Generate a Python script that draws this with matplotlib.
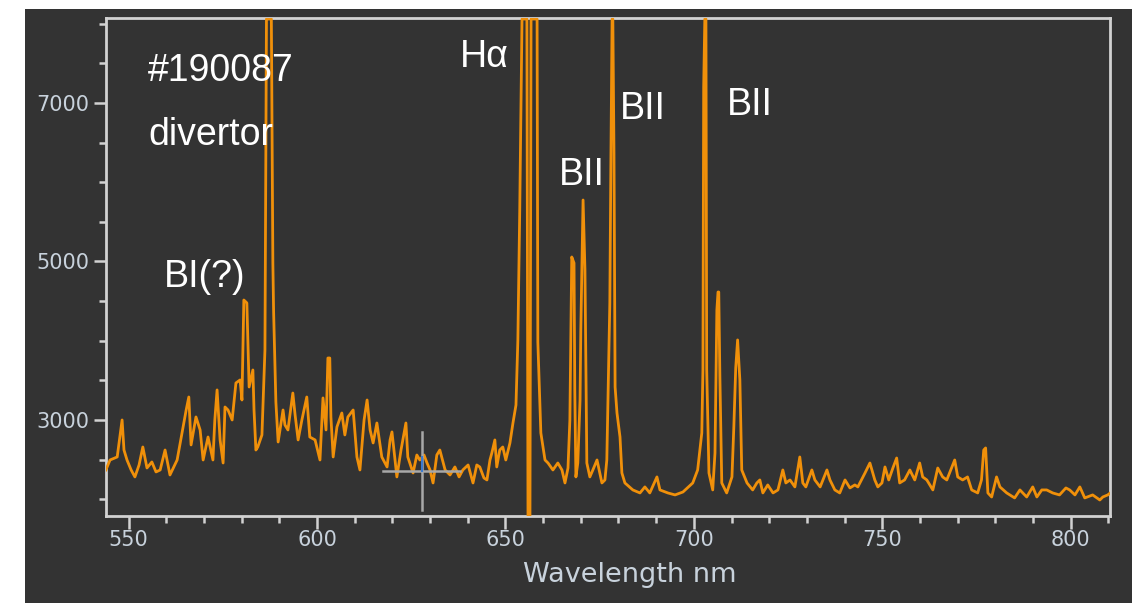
import matplotlib
matplotlib.use('Agg')
import matplotlib.pyplot as plt
from matplotlib.patches import Rectangle
from matplotlib.ticker import FixedLocator, MultipleLocator

# spectrum (wavelength nm, counts); 8060 = saturated, 1500 = overflow dip
wavelength = [
    544.0, 545.1, 547.0, 548.3, 548.8, 549.6, 550.7, 551.7, 552.8, 553.8, 554.9, 556.2, 557.3,
    558.4, 559.7, 561.0, 562.9, 564.5, 565.3, 566.0, 566.6, 567.9, 569.0, 569.8, 571.1, 572.4,
    572.9, 573.5, 574.3, 575.1, 575.6, 576.4, 577.5, 578.5, 579.6, 580.1, 580.6, 581.4, 582.0,
    583.0, 583.3, 583.8, 584.3, 585.4, 586.2, 586.6, 587.9, 588.3, 588.5, 589.1, 589.7, 591.0,
    591.5, 592.3, 593.6, 594.2, 595.0, 596.0, 597.3, 598.1, 599.5, 600.8, 601.6, 602.4, 602.9,
    603.4, 603.7, 604.3, 605.3, 606.6, 607.4, 608.2, 609.6, 610.6, 611.4, 612.5, 613.3, 614.1,
    614.9, 615.9, 617.2, 618.6, 619.4, 619.9, 620.7, 621.2, 622.3, 623.6, 624.1, 625.5, 626.5,
    627.3, 628.4, 629.2, 630.0, 630.8, 631.8, 632.6, 634.0, 635.3, 636.6, 637.7, 638.7, 640.1,
    641.4, 642.4, 643.2, 644.3, 645.1, 645.9, 646.4, 647.2, 647.7, 648.5, 649.3, 650.1, 651.2,
    652.0, 652.8, 653.3, 653.8, 654.4, 655.7, 656.0, 656.5, 656.8, 658.4, 658.6, 659.4, 660.5,
    661.3, 662.6, 663.9, 665.0, 665.8, 666.6, 667.1, 667.6, 668.2, 668.4, 668.7, 669.2, 669.8,
    670.0, 670.6, 671.1, 671.4, 671.6, 672.4, 673.2, 674.3, 675.6, 676.4, 676.9, 677.7, 678.0,
    678.3, 678.5, 678.8, 679.1, 679.6, 680.4, 680.9, 681.7, 683.8, 685.7, 687.0, 688.3, 690.2,
    691.0, 693.1, 695.0, 697.1, 699.7, 701.0, 702.1, 702.4, 702.6, 702.9, 703.2, 703.4, 704.0,
    705.0, 705.6, 706.1, 706.4, 706.6, 706.9, 707.4, 708.7, 710.1, 710.6, 711.1, 711.6, 712.2,
    712.7, 714.1, 715.6, 716.7, 717.5, 718.3, 719.6, 721.0, 722.3, 723.6, 724.4, 725.5, 726.8,
    728.1, 728.9, 729.7, 731.3, 732.1, 733.5, 735.3, 736.1, 737.4, 738.7, 740.1, 741.4, 742.7,
    743.5, 745.4, 746.7, 748.0, 748.8, 749.9, 750.7, 751.7, 752.8, 753.8, 754.6, 755.9, 757.3,
    758.6, 759.9, 760.7, 761.8, 763.4, 764.7, 766.0, 767.1, 769.2, 770.0, 771.3, 772.6, 773.7,
    775.3, 776.3, 776.9, 777.4, 778.0, 779.0, 780.3, 781.2, 783.0, 785.1, 786.5, 788.3, 789.9,
    791.0, 792.3, 793.6, 795.2, 797.0, 798.7, 799.7, 801.1, 802.4, 803.7, 805.8, 807.7, 808.5,
    809.8, 810.5,
]
counts = [
    2369, 2495, 2533, 3000, 2621, 2495, 2369, 2281, 2432, 2659, 2394, 2470, 2344,
    2369, 2621, 2306, 2495, 2912, 3126, 3290, 2685, 3038, 2874, 2495, 2785, 2495,
    3000, 3379, 2748, 2457, 3164, 3126, 3000, 3467, 3505, 3252, 4514, 4477, 3416,
    3631, 3126, 2621, 2659, 2811, 3883, 8060, 8060, 4981, 4363, 3227, 2722, 3126,
    2937, 2874, 3340, 3063, 2748, 3000, 3290, 2785, 2748, 2495, 3278, 2874, 3782,
    3782, 3038, 2533, 2912, 3088, 2811, 3038, 3126, 2533, 2369, 3000, 3252, 2874,
    2710, 2962, 2533, 2407, 2748, 2849, 2495, 2281, 2621, 2962, 2533, 2331, 2558,
    2495, 2558, 2457, 2369, 2205, 2558, 2621, 2369, 2306, 2407, 2281, 2369, 2432,
    2205, 2432, 2407, 2268, 2243, 2495, 2584, 2748, 2407, 2621, 2659, 2495, 2710,
    2962, 3189, 4010, 5650, 8060, 8060, 1500, 1500, 8060, 8060, 3984, 2836, 2495,
    2457, 2369, 2457, 2369, 2205, 2394, 3000, 5057, 4981, 3379, 2281, 2457, 3252,
    4136, 5776, 4893, 3505, 2457, 2281, 2369, 2495, 2205, 2243, 2495, 4477, 6370,
    8060, 8060, 6370, 3416, 3088, 2785, 2331, 2205, 2117, 2079, 2155, 2079, 2281,
    2117, 2079, 2054, 2091, 2205, 2369, 2836, 3631, 7202, 8060, 8060, 3631, 2331,
    2117, 2584, 4388, 4615, 4615, 3543, 2205, 2079, 2281, 2912, 3656, 4010, 3505,
    2369, 2205, 2117, 2205, 2243, 2079, 2180, 2079, 2117, 2369, 2205, 2243, 2155,
    2533, 2205, 2155, 2369, 2243, 2155, 2369, 2243, 2117, 2079, 2243, 2142, 2180,
    2155, 2331, 2457, 2243, 2155, 2205, 2407, 2243, 2394, 2520, 2205, 2243, 2369,
    2243, 2457, 2281, 2243, 2117, 2394, 2281, 2243, 2495, 2281, 2243, 2281, 2117,
    2079, 2243, 2621, 2647, 2079, 2028, 2281, 2155, 2079, 2016, 2117, 2028, 2155,
    2028, 2117, 2117, 2079, 2054, 2142, 2117, 2054, 2155, 2016, 2054, 1990, 2028,
    2054, 2080,
]

# line labels: (text, wavelength at left edge, counts at centre)
labels = ['#190087', 'divertor', 'Hα', 'BII', 'BII', 'BII', 'BI(?)']
label_nm = [555.2, 555.2, 637.9, 664.2, 680.4, 708.8, 559.4]
label_counts = [7400, 6600, 7581, 6092, 6925, 6975, 4805]

# cursor crosshair in the screenshot
cursor_nm = 627.8
cursor_counts = 2356

bg = '#333333'
fg = '#d2d2d2'
tick_text = '#c8d2dc'

fig = plt.figure(figsize=(11.32, 6.03), dpi=100, facecolor='white')
fig.patches.append(Rectangle((25 / 1132, 0), 1 - 25 / 1132, 1 - 9 / 603,
                             transform=fig.transFigure, facecolor=bg, edgecolor='none', zorder=-10))

ax = fig.add_axes([106 / 1132, 87 / 603, 1004 / 1132, 498 / 603])
ax.set_facecolor(bg)

ax.plot(wavelength, counts, color='#f0900a', lw=2.0, zorder=3)

# crosshair
ax.plot([cursor_nm, cursor_nm], [1864, 2849], color='#a8a8a8', lw=1.8, zorder=4)
ax.plot([617.5, 637.9], [cursor_counts, cursor_counts], color='#a8a8a8', lw=1.8, zorder=4)
ax.plot([cursor_nm, cursor_nm], [cursor_counts, 2530], color='#3a7ad0', lw=1.5, zorder=5)

ax.set_xlim(544.03, 810.4)
ax.set_ylim(1788, 8073)

ax.xaxis.set_major_locator(MultipleLocator(50))
ax.xaxis.set_minor_locator(MultipleLocator(10))
ax.yaxis.set_major_locator(FixedLocator([3000, 5000, 7000]))
ax.yaxis.set_minor_locator(MultipleLocator(500))

for s in ax.spines.values():
    s.set_color(fg)
    s.set_linewidth(2)

ax.tick_params(which='major', direction='out', length=9, width=1.8, color=fg,
               labelcolor=tick_text, labelsize=15, pad=3)
ax.tick_params(axis='x', which='major', pad=1)
ax.tick_params(which='minor', direction='out', length=5, width=1.8, color=fg)

ax.set_xlabel('Wavelength nm', color=tick_text, fontsize=19.5)
ax.xaxis.set_label_coords((630 - 106) / 1004, -46 / 498)

for txt, x, y in zip(labels, label_nm, label_counts):
    ax.text(x, y, txt, color='white', fontsize=27, family='Liberation Sans',
            ha='left', va='center', zorder=6)

fig.savefig('out.png', dpi=100, facecolor=fig.get_facecolor())
